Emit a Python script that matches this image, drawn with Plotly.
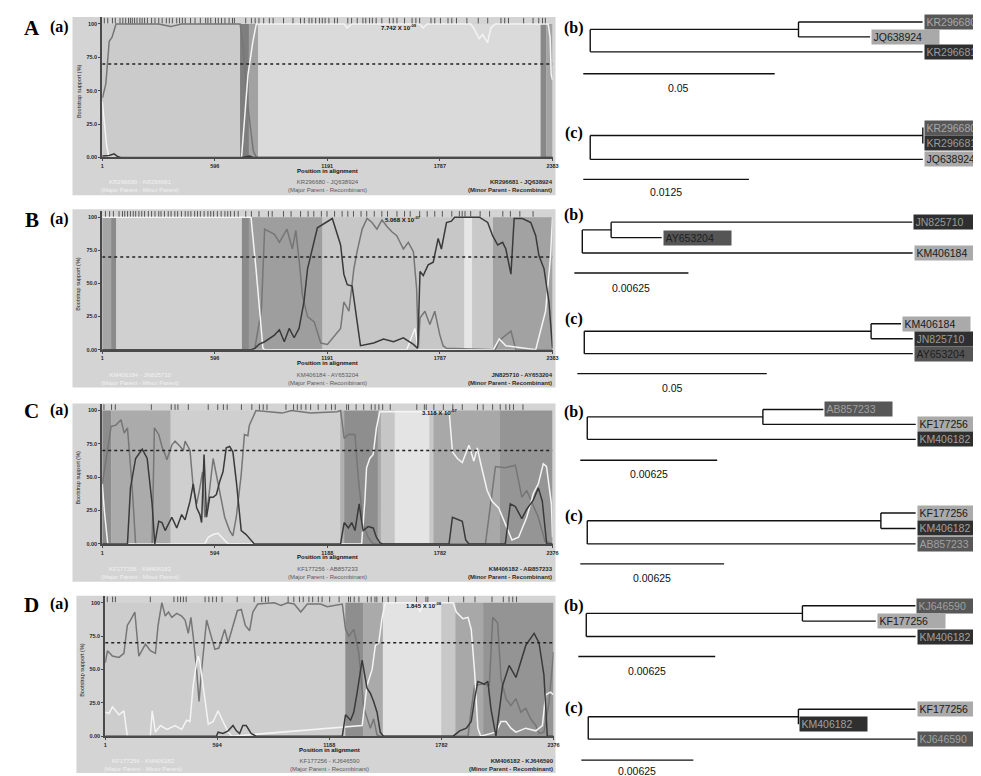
import plotly.graph_objects as go

W, H = 981, 776
SANS = "Liberation Sans"
SERIF = "Liberation Serif"

# ---------------- bootscan data ----------------
A_ticks = [1, 596, 1191, 1787, 2383]
B_ticks = [1, 596, 1191, 1787, 2383]
C_ticks = [1, 594, 1188, 1782, 2376]
D_ticks = [1, 594, 1188, 1782, 2376]
threshold = 70
y_ticks = [0, 25, 50, 75, 100]
y_ticktext = ["0.00", "25.0", "50.0", "75.0", "100"]

A_med_pos = [1, 3, 20, 38, 53, 74, 300, 363, 420, 730, 745, 770, 800, 816, 2383]
A_med = [45, 45, 55, 87, 90, 100, 100, 98, 100, 100, 85, 40, 5, 0, 0]
A_white_pos = [1, 12, 25, 37, 738, 772, 798, 816, 1280, 1297, 1320, 1680, 1699, 1720,
               1950, 1969, 1995, 2013, 2039, 2057, 2080, 2360, 2370, 2376, 2383]
A_white = [42, 25, 8, 0, 0, 62, 87, 100, 100, 97, 100, 100, 97, 100,
           100, 96, 89, 92, 86, 97, 100, 100, 90, 62, 58]
A_dark_pos = [1, 38, 64, 82, 99, 740, 780, 800, 2383]
A_dark = [1, 1.5, 2.7, 0.7, 0, 0, 1, 0, 0]

B_white_pos = [1, 788, 815, 851, 860, 1612, 1655, 1673, 2070, 2101, 2136, 2294, 2346, 2372, 2383]
B_white = [100, 100, 60, 1, 0, 0, 16, 0, 0, 8, 3, 0, 29, 70, 100]
B_med_pos = [1, 790, 808, 843, 860, 912, 938, 978, 1007, 1025, 1047, 1060, 1087, 1122, 1157,
             1192, 1262, 1279, 1306, 1332, 1349, 1376, 1402, 1428, 1454, 1481, 1507, 1533,
             1559, 1594, 1620, 1647, 1664, 1673, 1682, 1708, 1734, 1760, 1787, 1804, 1822,
             2080, 2101, 2163, 2189, 2383]
B_med = [0, 0, 1, 30, 91, 87, 81, 91, 76, 90, 61, 41, 25, 21, 5,
         4, 16, 36, 29, 61, 74, 91, 99, 96, 91, 98, 93, 89,
         86, 76, 81, 74, 46, 1, 24, 29, 19, 29, 11, 3, 1,
         0, 7, 14, 0, 0]
B_dark_pos = [1, 790, 808, 830, 860, 912, 938, 964, 990, 1016, 1042, 1068, 1087, 1139, 1218,
              1262, 1279, 1297, 1323, 1367, 1437, 1489, 1542, 1594, 1647, 1670, 1682, 1699,
              1725, 1752, 1778, 1795, 1822, 1848, 1865, 1927, 1996, 2040, 2066, 2093, 2119,
              2136, 2163, 2180, 2224, 2268, 2294, 2311, 2338, 2364, 2383]
B_dark = [0, 0, 1, 4, 6, 11, 15, 6, 16, 9, 16, 36, 61, 92, 99,
          79, 57, 49, 48, 3, 5, 8, 6, 9, 4, 1, 59, 56,
          64, 66, 84, 76, 96, 97, 100, 100, 100, 96, 86, 79, 81,
          76, 57, 99, 99, 96, 86, 71, 61, 36, 1]

C_med_pos = [1, 48, 73, 100, 117, 134, 160, 177, 264, 276, 299, 320, 333, 342, 368, 385,
             412, 429, 438, 464, 481, 499, 516, 530, 542, 560, 586, 612, 647, 673, 690, 708,
             734, 751, 769, 777, 812, 950, 1000, 1100, 1240, 1258, 1277, 1299, 1334, 1351,
             1377, 1403, 1430, 2022, 2075, 2127, 2180, 2214, 2240, 2301, 2336, 2376]
C_med = [45, 88, 89, 93, 83, 87, 40, 0, 0, 87, 82, 71, 67, 63, 74, 77,
         73, 70, 77, 70, 42, 30, 42, 54, 20, 32, 64, 45, 20, 10, 6, 20,
         52, 82, 81, 89, 100, 98, 100, 98, 99, 100, 79, 82, 82, 50,
         15, 5, 0, 0, 58, 57, 59, 35, 40, 20, 2, 0]
C_dark_pos = [1, 134, 150, 177, 212, 238, 264, 278, 299, 316, 333, 368, 394, 420, 438, 464,
              481, 499, 516, 525, 538, 551, 568, 586, 603, 621, 638, 655, 673, 690, 708, 734,
              760, 803, 1258, 1277, 1299, 1317, 1334, 1356, 1369, 1377, 1403, 1430, 1447, 1465,
              1480, 1830, 1848, 1900, 1918, 1935, 2127, 2153, 2180, 2214, 2240, 2275, 2301,
              2322, 2345, 2376]
C_dark = [0, 0, 42, 64, 71, 64, 30, 0, 17, 16, 10, 20, 12, 22, 18, 32,
          45, 27, 22, 16, 67, 20, 35, 35, 37, 47, 54, 72, 73, 69, 47, 10,
          7, 0, 0, 16, 12, 16, 10, 30, 17, 10, 13, 12, 5, 1,
          0, 0, 20, 17, 3, 0, 0, 30, 28, 19, 26, 33, 42,
          32, 0, 0]
C_white_pos = [1, 12, 30, 542, 560, 586, 612, 638, 665, 1369, 1377, 1386, 1395, 1412, 1430,
               1447, 1465, 1831, 1848, 1874, 1900, 1935, 1961, 1979, 1996, 2031, 2057, 2092,
               2127, 2162, 2197, 2240, 2275, 2301, 2327, 2344, 2370, 2376]
C_white = [45, 25, 0, 0, 5, 7, 8, 4, 0, 0, 15, 32, 57, 64, 67,
           87, 99, 99, 69, 64, 61, 74, 62, 72, 61, 40, 32, 27,
           15, 3, 5, 20, 38, 45, 60, 58, 30, 5]

D_med_pos = [1, 13, 39, 74, 100, 118, 135, 158, 179, 214, 240, 267, 281, 301, 319, 336, 354,
             380, 406, 424, 441, 455, 467, 485, 498, 512, 538, 564, 582, 603, 634, 652, 673,
             701, 722, 743, 766, 783, 809, 897, 932, 967, 1002, 1037, 1072, 1142, 1177, 1230,
             1257, 1274, 1292, 1318, 1344, 1371, 1388, 1406, 1423, 1441, 1458, 1923, 1940,
             1958, 2001, 2036, 2054, 2080, 2098, 2124, 2150, 2177, 2203, 2229, 2255, 2282,
             2299, 2325, 2352, 2376]
D_med = [55, 64, 60, 59, 62, 83, 87, 93, 60, 69, 64, 62, 83, 100, 90, 93, 89,
         92, 90, 87, 77, 89, 75, 50, 26, 50, 87, 73, 65, 66, 80, 70, 80,
         94, 95, 83, 79, 93, 99, 100, 98, 100, 99, 93, 99, 99, 97, 98,
         99, 80, 75, 80, 63, 21, 13, 6, 13, 1, 0, 0, 20,
         38, 39, 38, 89, 85, 43, 28, 23, 28, 18, 21, 13, 8,
         2, 3, 25, 63]
D_dark_pos = [1, 590, 599, 625, 652, 678, 696, 713, 730, 748, 774, 800, 1257, 1274, 1301,
              1318, 1336, 1362, 1388, 1406, 1423, 1441, 1458, 1475, 1844, 1879, 1914, 1940,
              1958, 1975, 2010, 2028, 2045, 2071, 2106, 2141, 2177, 2229, 2273, 2299, 2325,
              2343, 2376]
D_dark = [0, 0, 3, 2, 4, 8, 4, 2, 8, 8, 2, 0, 0, 16, 12,
          18, 33, 57, 36, 32, 26, 18, 3, 0, 0, 4, 6, 11,
          28, 41, 39, 41, 20, 0, 38, 53, 44, 68, 77, 70, 46,
          0, 0]
D_white_pos = [1, 21, 39, 74, 100, 118, 240, 250, 267, 293, 328, 371, 406, 432, 450, 467, 485,
               494, 503, 547, 573, 599, 625, 652, 673, 1362, 1388, 1415, 1432, 1450, 1467,
               1485, 1650, 1669, 1690, 1844, 1861, 1896, 1923, 1940, 1958, 1975, 1990, 2071,
               2098, 2124, 2150, 2177, 2229, 2282, 2317, 2334, 2360, 2376]
D_white = [18, 17, 22, 16, 19, 0, 0, 19, 3, 8, 5, 8, 5, 12, 11, 38, 55,
           60, 55, 9, 11, 19, 11, 3, 0, 8, 38, 50, 68, 70, 88,
           100, 100, 93, 100, 100, 93, 88, 89, 80, 48, 6, 0, 3,
           11, 11, 6, 3, 6, 4, 8, 31, 33, 31]

# informative sites marked in the top strip
A_sites = [12, 30, 55, 70, 95, 110, 125, 140, 150, 160, 172, 185, 200, 212, 225, 240, 262, 280,
           300, 318, 340, 356, 372, 395, 410, 425, 440, 468, 492, 520, 548, 560, 575, 600, 615,
           632, 650, 672, 690, 700, 760, 790, 810, 830, 855, 885, 905, 960, 1010, 1050, 1070,
           1095, 1110, 1130, 1150, 1165, 1180, 1200, 1230, 1245, 1300, 1320, 1350, 1380, 1395,
           1415, 1430, 1450, 1480, 1520, 1540, 1560, 1600, 1640, 1660, 1680, 1740, 1760, 1790,
           1830, 1850, 1875, 1930, 1990, 2040, 2110, 2130, 2150, 2230, 2280, 2310, 2330, 2345]
B_sites = [18, 40, 60, 90, 108, 120, 135, 150, 165, 178, 195, 210, 225, 245, 262, 280, 300, 312,
           330, 350, 365, 385, 400, 420, 440, 455, 470, 490, 505, 520, 540, 560, 575, 590, 610,
           630, 650, 665, 680, 700, 720, 760, 790, 830, 880, 900, 960, 1000, 1050, 1090, 1120,
           1160, 1190, 1230, 1270, 1300, 1330, 1370, 1400, 1440, 1480, 1510, 1560, 1600, 1630,
           1680, 1720, 1760, 1800, 1850, 1890, 1905, 1920, 1950, 2000, 2050, 2120, 2160, 2210, 2280]
C_sites = [10, 50, 70, 260, 365, 385, 400, 455, 560, 610, 640, 660, 735, 790, 830, 850, 870, 970,
           1010, 1030, 1050, 1075, 1100, 1140, 1180, 1210, 1230, 1290, 1300, 1340, 1380, 1420,
           1440, 1460, 1480, 1520, 1660, 1700, 1710, 1750, 1800, 1850, 1900, 1980, 2010, 2060,
           2100, 2130, 2150, 2170, 2220]
D_sites = [12, 40, 55, 240, 365, 385, 400, 415, 430, 530, 550, 570, 590, 620, 700, 790, 830, 850,
           865, 970, 1000, 1030, 1050, 1080, 1100, 1130, 1150, 1190, 1240, 1290, 1300, 1320, 1345,
           1390, 1410, 1430, 1440, 1470, 1500, 1540, 1650, 1700, 1710, 1820, 1900, 1960, 2050,
           2110, 2140, 2160, 2180]

# recombination regions (edges along the alignment)
A_edges = [1, 730, 777, 825, 2320, 2350, 2383]
B_edges = [1, 48, 75, 740, 777, 1166, 1916, 1958, 2068, 2383]
C_edges = [1, 48, 362, 1256, 1277, 1455, 1471, 1544, 1727, 1748, 2099, 2376]
D_edges = [1, 1273, 1367, 1472, 1782, 1856, 2003, 2376]

A_pval = "7.742 X 10<sup>-09</sup>"
B_pval = "5.068 X 10<sup>-07</sup>"
C_pval = "3.118 X 10<sup>-07</sup>"
D_pval = "1.845 X 10<sup>-08</sup>"

A_pairs = ["KR296680 - KR296681", "KR296680 - JQ638924", "KR296681 - JQ638924"]
B_pairs = ["KM406184 - JN825710", "KM406184 - AY653204", "JN825710 - AY653204"]
C_pairs = ["KF177256 - KM406182", "KF177256 - AB857233", "KM406182 - AB857233"]
D_pairs = ["KF177256 - KM406182", "KF177256 - KJ646590", "KM406182 - KJ646590"]
pair_roles = ["(Major Parent - Minor Parent)", "(Major Parent - Recombinant)",
              "(Minor Parent - Recombinant)"]

# ---------------- tree data: ((leaf0, leaf1):internal, leaf2) ----------------
Ab_leaves = ["KR296680", "JQ638924", "KR296681"]; Ab_internal = 0.0544; Ab_tips = [0.0324, 0.0187, 0.0868]; Ab_scale = 0.05
Ac_leaves = ["KR296680", "KR296681", "JQ638924"]; Ac_internal = 0.0251; Ac_tips = [0.0, 0.0, 0.0251]; Ac_scale = 0.0125
Bb_leaves = ["JN825710", "AY653204", "KM406184"]; Bb_internal = 0.00158; Bb_tips = [0.0165, 0.00277, 0.0181]; Bb_scale = 0.00625
Bc_leaves = ["KM406184", "JN825710", "AY653204"]; Bc_internal = 0.0757; Bc_tips = [0.0079, 0.0110, 0.0867]; Bc_scale = 0.05
Cb_leaves = ["AB857233", "KF177256", "KM406182"]; Cb_internal = 0.00802; Cb_tips = [0.00276, 0.00698, 0.0150]; Cb_scale = 0.00625
Cc_leaves = ["KF177256", "KM406182", "AB857233"]; Cc_internal = 0.01276; Cc_tips = [0.00151, 0.00151, 0.01427]; Cc_scale = 0.00625
Db_leaves = ["KJ646590", "KF177256", "KM406182"]; Db_internal = 0.00987; Db_tips = [0.00516, 0.00335, 0.01504]; Db_scale = 0.00625
Dc_leaves = ["KF177256", "KM406182", "KJ646590"]; Dc_internal = 0.01172; Dc_tips = [0.00653, 0.0, 0.01825]; Dc_scale = 0.00625

# ---------------- styles ----------------
band_colors = {
    "A": ["#cbcbcb", "#7e7e7e", "#a2a2a2", "#dadada", "#888888", "#a4a4a4"],
    "B": ["#a6a6a6", "#8a8a8a", "#d0d0d0", "#8a8a8a", "#9e9e9e", "#c7c7c7", "#e6e6e6", "#c9c9c9", "#a2a2a2"],
    "C": ["#8c8c8c", "#ababab", "#cfcfcf", "#b0b0b0", "#8e8e8e", "#aaaaaa", "#c6c6c6", "#e4e4e4", "#c8c8c8", "#a8a8a8", "#959595"],
    "D": ["#cdcdcd", "#8e8e8e", "#aaaaaa", "#e3e3e3", "#c8c8c8", "#a8a8a8", "#949494"],
}
leaf_style = {
    "A": {"KR296680": ("#575757", "#a8a8a8"), "KR296681": ("#2f2f2f", "#9c9c9c"), "JQ638924": ("#a9a9a9", "#1a1a1a")},
    "B": {"JN825710": ("#2f2f2f", "#9a9a9a"), "AY653204": ("#555555", "#1e1e1e"), "KM406184": ("#aaaaaa", "#1a1a1a")},
    "C": {"AB857233": ("#575757", "#a0a0a0"), "KF177256": ("#aaaaaa", "#1a1a1a"), "KM406182": ("#2f2f2f", "#a0a0a0")},
    "D": {"KJ646590": ("#575757", "#a0a0a0"), "KF177256": ("#aaaaaa", "#1a1a1a"), "KM406182": ("#2f2f2f", "#a0a0a0")},
}
C_DARK, C_MED, C_WHITE = "#3a3a3a", "#767676", "#f4f4f4"


def px(x):
    return x / W


def py(y):
    return 1 - y / H


def axkey(kind, n):
    return f"{kind}axis" if n == 1 else f"{kind}axis{n}"


def tref(kind, n):
    return kind if n == 1 else f"{kind}{n}"


def note(text, x, y, size, color="#111", family=SANS, weight="normal", xanchor="center",
         yanchor="middle", xref="paper", yref="paper", **kw):
    return dict(text=text, x=x, y=y, xref=xref, yref=yref, showarrow=False, xanchor=xanchor,
                yanchor=yanchor, font=dict(size=size, color=color, family=family, weight=weight), **kw)


boots = [
    dict(name="A", ticks=A_ticks, edges=A_edges, sites=A_sites, pval=A_pval, pairs=A_pairs,
         lines=[(A_med_pos, A_med, C_MED), (A_white_pos, A_white, C_WHITE), (A_dark_pos, A_dark, C_DARK)],
         xd=(93, 547), y0=150, y100=16, box=(63, 9, 550, 188), pv=(392, 19), let=20),
    dict(name="B", ticks=B_ticks, edges=B_edges, sites=B_sites, pval=B_pval, pairs=B_pairs,
         lines=[(B_med_pos, B_med, C_MED), (B_white_pos, B_white, C_WHITE), (B_dark_pos, B_dark, C_DARK)],
         xd=(93, 547), y0=343, y100=210, box=(63, 202, 550, 381), pv=(396, 212), let=213),
    dict(name="C", ticks=C_ticks, edges=C_edges, sites=C_sites, pval=C_pval, pairs=C_pairs,
         lines=[(C_med_pos, C_med, C_MED), (C_white_pos, C_white, C_WHITE), (C_dark_pos, C_dark, C_DARK)],
         xd=(93, 547), y0=538, y100=404, box=(63, 397, 550, 576), pv=(433, 406), let=405),
    dict(name="D", ticks=D_ticks, edges=D_edges, sites=D_sites, pval=D_pval, pairs=D_pairs,
         lines=[(D_med_pos, D_med, C_MED), (D_white_pos, D_white, C_WHITE), (D_dark_pos, D_dark, C_DARK)],
         xd=(96, 548), y0=731, y100=597, box=(67, 590, 550, 768), pv=(417, 599), let=599),
]

trees = [
    dict(p="A", tag="(b)", leaves=Ab_leaves, internal=Ab_internal, tips=Ab_tips, scale=Ab_scale,
         root=585, bar0=578, barpx=193, row0=14, sp=15, bar_py=66, lab_py=80, tag_py=20),
    dict(p="A", tag="(c)", leaves=Ac_leaves, internal=Ac_internal, tips=Ac_tips, scale=Ac_scale,
         root=585, bar0=578, barpx=167, row0=120, sp=16, bar_py=172, lab_py=185, tag_py=125),
    dict(p="B", tag="(b)", leaves=Bb_leaves, internal=Bb_internal, tips=Bb_tips, scale=Bb_scale,
         root=577, bar0=569, barpx=115, row0=215, sp=15.5, bar_py=266, lab_py=281, tag_py=208),
    dict(p="B", tag="(c)", leaves=Bc_leaves, internal=Bc_internal, tips=Bc_tips, scale=Bc_scale,
         root=579, bar0=572, barpx=191, row0=317, sp=15, bar_py=367, lab_py=381, tag_py=312),
    dict(p="C", tag="(b)", leaves=Cb_leaves, internal=Cb_internal, tips=Cb_tips, scale=Cb_scale,
         root=582, bar0=575, barpx=138, row0=403, sp=15, bar_py=454, lab_py=468, tag_py=406),
    dict(p="C", tag="(c)", leaves=Cc_leaves, internal=Cc_internal, tips=Cc_tips, scale=Cc_scale,
         root=582, bar0=575, barpx=145, row0=507, sp=15.5, bar_py=558, lab_py=572, tag_py=510),
    dict(p="D", tag="(b)", leaves=Db_leaves, internal=Db_internal, tips=Db_tips, scale=Db_scale,
         root=581, bar0=573, barpx=138, row0=600, sp=15.5, bar_py=651, lab_py=666, tag_py=600),
    dict(p="D", tag="(c)", leaves=Dc_leaves, internal=Dc_internal, tips=Dc_tips, scale=Dc_scale,
         root=583, bar0=576, barpx=113, row0=704, sp=15, bar_py=755, lab_py=766, tag_py=703),
]

fig = go.Figure()
shapes = []
annots = []
axes = {}

# ---------------- bootscan panels ----------------
for i, b in enumerate(boots):
    n = i + 1
    xa, ya = tref("x", n), tref("y", n)
    x0p, x1p = b["xd"]
    ppv = (b["y0"] - b["y100"]) / 100.0
    ytop = b["y0"] - 105 * ppv
    xmax = b["ticks"][-1]
    bx0, by0, bx1, by1 = b["box"]
    shapes.append(dict(type="rect", xref="paper", yref="paper", x0=px(bx0), x1=px(bx1),
                       y0=py(by1), y1=py(by0), fillcolor="#d4d4d4", line=dict(width=0), layer="below"))
    edges = b["edges"]
    for k, col in enumerate(band_colors[b["name"]]):
        shapes.append(dict(type="rect", xref=xa, yref=ya, x0=edges[k], x1=edges[k + 1], y0=0, y1=100,
                           fillcolor=col, line=dict(width=0), layer="below"))
    axes[axkey("x", n)] = dict(
        domain=[px(x0p), px(x1p)], range=[1, xmax], tickvals=b["ticks"],
        ticktext=[str(t) for t in b["ticks"]], showgrid=False, zeroline=False, showline=True,
        linecolor="#4a4a4a", linewidth=2, ticks="outside", ticklen=2, tickcolor="#4a4a4a",
        tickfont=dict(size=5.5, color="#2a2a2a", family=SANS, weight="bold"), anchor=ya, fixedrange=True)
    axes[axkey("y", n)] = dict(
        domain=[py(b["y0"]), py(ytop)], range=[0, 105], tickvals=y_ticks, ticktext=y_ticktext,
        showgrid=False, zeroline=False, showline=True, linecolor="#4a4a4a", linewidth=2,
        ticks="outside", ticklen=2, tickcolor="#4a4a4a",
        tickfont=dict(size=5.5, color="#2a2a2a", family=SANS, weight="bold"), anchor=xa, fixedrange=True)
    for pos, vals, col in b["lines"]:
        fig.add_trace(go.Scatter(x=pos, y=vals, mode="lines", line=dict(color=col, width=1.5),
                                 xaxis=xa, yaxis=ya, hoverinfo="skip"))
    fig.add_trace(go.Scatter(x=[1, xmax], y=[threshold, threshold], mode="lines",
                             line=dict(color="#222222", width=1.5, dash="dot"), xaxis=xa, yaxis=ya))
    fig.add_trace(go.Scatter(x=b["sites"], y=[102.5] * len(b["sites"]), mode="markers",
                             marker=dict(symbol="line-ns", size=4, line=dict(width=1, color="#555555")),
                             xaxis=xa, yaxis=ya))
    # texts
    annots.append(note(b["pval"], px(b["pv"][0]), py(b["pv"][1]), 6, weight="bold"))
    annots.append(note("Position in alignment", px((x0p + x1p) / 2), py(b["y0"] + 13.5), 6, weight="bold"))
    annots.append(note("Bootstrap support (%)", px(bx0 + 6), py((b["y0"] + b["y100"]) / 2), 5.5,
                       color="#222", textangle=-90))
    lab_y = py(b["y0"] + 29)
    annots.append(note(b["pairs"][0] + "<br>" + pair_roles[0], px(x0p + 0.084 * (x1p - x0p)), lab_y, 6,
                       color="#f2f2f2", align="center"))
    annots.append(note(b["pairs"][1] + "<br>" + pair_roles[1], px((x0p + x1p) / 2), lab_y, 6,
                       color="#5a5a5a", align="center"))
    annots.append(note(b["pairs"][2] + "<br>" + pair_roles[2], px(x1p + 2), lab_y, 6,
                       color="#2a2a2a", weight="bold", align="right", xanchor="right"))
    # row letters
    annots.append(note(b["name"], px(22), py(b["let"]), 21, color="#000", family=SERIF, weight="bold"))
    annots.append(note("(a)", px(50), py(b["let"] - 1), 16, color="#000", family=SERIF, weight="bold"))

# ---------------- trees ----------------
for j, t in enumerate(trees):
    n = 5 + j
    xa, ya = tref("x", n), tref("y", n)
    ppu = t["barpx"] / t["scale"]
    top_py = t["row0"] - 12
    bot_py = min(t["row0"] + 72, H)
    axes[axkey("x", n)] = dict(domain=[px(540), 1.0], range=[(540 - t["root"]) / ppu, (W - t["root"]) / ppu],
                               visible=False, fixedrange=True, anchor=ya)
    axes[axkey("y", n)] = dict(domain=[py(bot_py), py(top_py)],
                               range=[(bot_py - t["row0"]) / t["sp"], (top_py - t["row0"]) / t["sp"]],
                               visible=False, fixedrange=True, anchor=xa)
    node = t["internal"]
    L = t["tips"]
    xs = [0, 0, None, 0, node, None, node, node, None,
          node, node + L[0], None, node, node + L[1], None, 0, L[2], None]
    ys = [0.5, 2, None, 0.5, 0.5, None, 0, 1, None,
          0, 0, None, 1, 1, None, 2, 2, None]
    fig.add_trace(go.Scatter(x=xs, y=ys, mode="lines", line=dict(color="#111", width=1.4),
                             xaxis=xa, yaxis=ya, hoverinfo="skip"))
    tip_x = [node + L[0], node + L[1], L[2]]
    for r, leaf in enumerate(t["leaves"]):
        bg, fg = leaf_style[t["p"]][leaf]
        annots.append(note(leaf, tip_x[r] + 1 / ppu, r, 10.5, color=fg, xanchor="left", xref=xa, yref=ya,
                           bgcolor=bg, width=64, height=11, borderpad=1.5, align="left"))
    bar_start = (t["bar0"] - t["root"]) / ppu
    bar_row = (t["bar_py"] - t["row0"]) / t["sp"]
    fig.add_trace(go.Scatter(x=[bar_start, bar_start + t["scale"]], y=[bar_row, bar_row], mode="lines",
                             line=dict(color="#111", width=1.4), xaxis=xa, yaxis=ya, hoverinfo="skip"))
    annots.append(note(f"{t['scale']:g}", bar_start + t["scale"] / 2, (t["lab_py"] - t["row0"]) / t["sp"],
                       10.5, xref=xa, yref=ya))
    annots.append(note(t["tag"], px(569), py(t["tag_py"]), 16, color="#000", family=SERIF, weight="bold"))

fig.update_layout(width=W, height=H, margin=dict(l=0, r=0, t=0, b=0), paper_bgcolor="white",
                  plot_bgcolor="rgba(0,0,0,0)", showlegend=False, shapes=shapes, annotations=annots,
                  **axes)
fig.write_html("out.html")
